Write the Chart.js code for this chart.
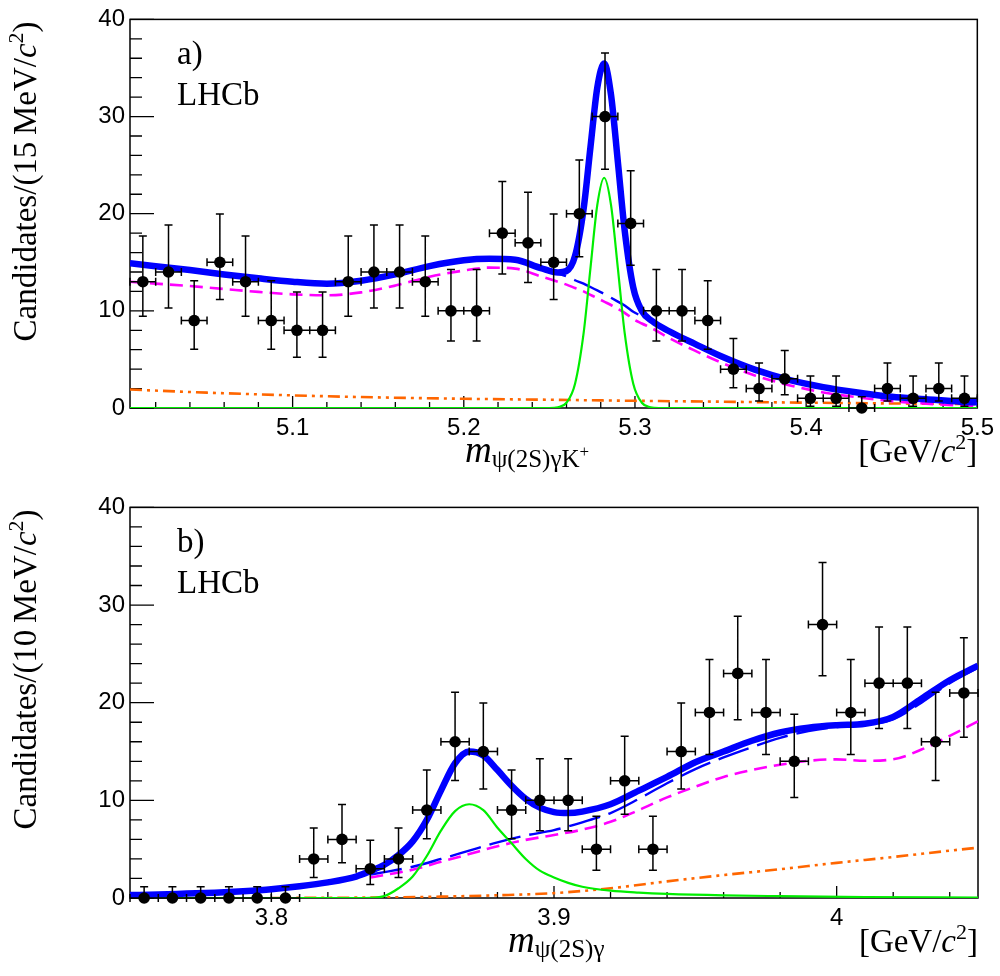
<!DOCTYPE html>
<html>
<head>
<meta charset="utf-8">
<script src="https://cdn.jsdelivr.net/npm/chart.js@4.4.1/dist/chart.umd.min.js"></script>
<style>
html, body { margin: 0; padding: 0; background: #fff; }
.panel { width: 1000px; height: 488px; }
canvas { display: block; }
</style>
</head>
<body>
<div class="panel"><canvas id="plotA" width="1000" height="488"></canvas></div>
<div class="panel"><canvas id="plotB" width="1000" height="488"></canvas></div>
<script>
// ---- panel a) : m(psi(2S) gamma K+) ----
const binsA = [5.0125, 5.0275, 5.0425, 5.0575, 5.0725, 5.0875, 5.1025, 5.1175, 5.1325, 5.1475, 5.1625,
  5.1775, 5.1925, 5.2075, 5.2225, 5.2375, 5.2525, 5.2675, 5.2825, 5.2975, 5.3125, 5.3275, 5.3425,
  5.3575, 5.3725, 5.3875, 5.4025, 5.4175, 5.4325, 5.4475, 5.4625, 5.4775, 5.4925];
const countsA = [13, 14, 9, 15, 13, 9, 8, 8, 13, 14, 14, 13, 10, 10, 18, 17, 15, 20, 30, 19, 10, 10, 9,
  4, 2, 3, 1, 1, 0, 2, 1, 2, 1];
const errLowA = [3.56, 3.70, 2.94, 3.83, 3.56, 2.94, 2.77, 2.77, 3.56, 3.70, 3.70, 3.56, 3.11, 3.11, 4.20,
  4.08, 3.83, 4.43, 5.42, 4.31, 3.11, 3.11, 2.94, 1.91, 1.29, 1.63, 0.83, 0.83, 0, 1.29, 0.83, 1.29, 0.83];
const errHighA = [4.70, 4.83, 4.11, 4.96, 4.70, 4.11, 3.95, 3.95, 4.70, 4.83, 4.83, 4.70, 4.26, 4.26, 5.32,
  5.20, 4.96, 5.54, 6.53, 5.43, 4.26, 4.26, 4.11, 3.16, 2.64, 2.92, 2.30, 2.30, 1.15, 2.64, 2.30, 2.64, 2.30];
const halfBinA = 0.0075;

const curveXA = [5.005, 5.02, 5.04, 5.06, 5.08, 5.10, 5.12, 5.14, 5.16, 5.18, 5.20, 5.215, 5.23, 5.245,
  5.255, 5.26, 5.265, 5.27, 5.274, 5.278, 5.282, 5.286, 5.29, 5.294, 5.299, 5.304, 5.31, 5.32, 5.335,
  5.35, 5.37, 5.39, 5.41, 5.43, 5.45, 5.47, 5.49, 5.5];
const totalA = [14.9, 14.6, 14.2, 13.75, 13.35, 13.0, 12.8, 13.1, 13.75, 14.6, 15.2, 15.35, 15.25, 14.4,
  13.95, 14.1, 15.65, 20.5, 26.85, 33.0, 35.45, 32.25, 25.35, 18.25, 12.4, 10.0, 8.95, 7.9, 6.6,
  5.35, 3.95, 2.9, 2.15, 1.6, 1.15, 0.9, 0.65, 0.58];
const bkgSumA = [14.9, 14.6, 14.2, 13.75, 13.35, 13.0, 12.8, 13.1, 13.75, 14.6, 15.2, 15.35, 15.25, 14.4,
  13.85, 13.55, 13.15, 12.8, 12.45, 12.1, 11.75, 11.35, 10.95, 10.55, 9.9, 9.45, 8.95, 7.9, 6.6,
  5.35, 3.95, 2.9, 2.15, 1.6, 1.15, 0.9, 0.65, 0.58];
const partRecoA = [13.0, 12.8, 12.55, 12.25, 11.95, 11.7, 11.6, 11.9, 12.6, 13.5, 14.15, 14.45, 14.35, 13.55,
  13.0, 12.7, 12.35, 12.0, 11.65, 11.3, 10.95, 10.6, 10.2, 9.8, 9.15, 8.7, 8.2, 7.2, 5.9,
  4.7, 3.35, 2.35, 1.6, 1.1, 0.7, 0.45, 0.25, 0.18];
const signalXA = [5.005, 5.25, 5.255, 5.26, 5.265, 5.27, 5.274, 5.278, 5.282, 5.286, 5.29, 5.294, 5.299,
  5.304, 5.309, 5.314, 5.5];
const signalA = [0, 0, 0.08, 0.54, 2.5, 7.7, 14.4, 20.9, 23.7, 20.9, 14.4, 7.7, 2.5, 0.54, 0.08, 0, 0];
const combXA = [5.005, 5.05, 5.10, 5.15, 5.20, 5.25, 5.30, 5.35, 5.40, 5.45, 5.5];
const combA = [1.9, 1.58, 1.3, 1.09, 0.95, 0.85, 0.74, 0.65, 0.55, 0.47, 0.4];
const xTicksA = [5.1, 5.2, 5.3, 5.4, 5.5];

// ---- panel b) : m(psi(2S) gamma) ----
const binsB = [3.755, 3.765, 3.775, 3.785, 3.795, 3.805, 3.815, 3.825, 3.835, 3.845, 3.855, 3.865, 3.875,
  3.885, 3.895, 3.905, 3.915, 3.925, 3.935, 3.945, 3.955, 3.965, 3.975, 3.985, 3.995, 4.005, 4.015,
  4.025, 4.035, 4.045];
const countsB = [0, 0, 0, 0, 0, 0, 4, 6, 3, 4, 9, 16, 15, 9, 10, 10, 5, 12, 5, 15, 19, 23, 19, 14, 28, 19,
  22, 22, 16, 21];
const errLowB = [0, 0, 0, 0, 0, 0, 1.91, 2.38, 1.63, 1.91, 2.94, 3.96, 3.83, 2.94, 3.11, 3.11, 2.16, 3.42,
  2.16, 3.83, 4.31, 4.75, 4.31, 3.70, 5.24, 4.31, 4.65, 4.65, 3.96, 4.54];
const errHighB = [1.15, 1.15, 1.15, 1.15, 1.15, 1.15, 3.16, 3.58, 2.92, 3.16, 4.11, 5.08, 4.96, 4.11, 4.26,
  4.26, 3.38, 4.56, 3.38, 4.96, 5.43, 5.86, 5.43, 4.83, 6.35, 5.43, 5.76, 5.76, 5.08, 5.65];
const halfBinB = 0.005;

const totalXB = [3.75, 3.76, 3.77, 3.78, 3.79, 3.80, 3.81, 3.82, 3.83, 3.835, 3.84, 3.845, 3.85, 3.855,
  3.86, 3.865, 3.87, 3.875, 3.88, 3.885, 3.89, 3.895, 3.90, 3.905, 3.91, 3.92, 3.93, 3.94, 3.95,
  3.96, 3.97, 3.98, 3.99, 4.00, 4.01, 4.02, 4.03, 4.04, 4.05];
const totalB = [0.3, 0.35, 0.45, 0.55, 0.7, 0.9, 1.2, 1.6, 2.2, 2.75, 3.4, 4.4, 5.8, 8.0, 11.0, 13.8,
  15.0, 14.6, 13.1, 11.5, 10.15, 9.25, 8.8, 8.7, 8.85, 9.6, 11.0, 12.4, 13.9, 15.0, 16.1, 16.95, 17.45,
  17.7, 17.85, 18.55, 20.4, 22.3, 23.8];
const bkgXB = [3.835, 3.84, 3.85, 3.86, 3.87, 3.88, 3.89, 3.90, 3.91, 3.92, 3.93, 3.94, 3.95, 3.96, 3.97,
  3.98, 3.99, 4.00, 4.01, 4.02, 4.03, 4.04, 4.05];
const bkgSumB = [2.4, 2.65, 3.2, 4.0, 4.85, 5.7, 6.4, 6.95, 7.75, 8.7, 10.15, 11.75, 13.2, 14.4, 15.45,
  16.4, 17.1, 17.5, 17.7, 18.3, 20.0, 22.0, 23.6];
const partRecoB = [2.1, 2.35, 2.9, 3.7, 4.5, 5.3, 5.95, 6.45, 7.0, 7.8, 9.0, 10.3, 11.4, 12.4, 13.1,
  13.65, 14.05, 14.2, 14.05, 14.2, 15.2, 16.6, 18.1];
const signalXB = [3.75, 3.83, 3.835, 3.84, 3.845, 3.85, 3.855, 3.86, 3.865, 3.87, 3.875, 3.88, 3.885,
  3.89, 3.895, 3.90, 3.905, 3.91, 3.92, 3.93, 3.94, 3.96, 3.98, 4.01, 4.05];
const signalB = [0, 0, 0.02, 0.2, 1.0, 2.2, 4.3, 6.9, 8.9, 9.6, 9.0, 7.2, 5.6, 4.0, 2.8, 2.1, 1.55, 1.15,
  0.75, 0.55, 0.42, 0.27, 0.19, 0.1, 0.05];
const combXB = [3.80, 3.82, 3.84, 3.86, 3.88, 3.90, 3.92, 3.94, 3.96, 3.98, 4.00, 4.02, 4.04, 4.05];
const combB = [0, 0.02, 0.06, 0.14, 0.28, 0.5, 1.0, 1.7, 2.35, 2.95, 3.6, 4.2, 4.85, 5.15];
const xTicksB = [3.8, 3.9, 4];

const yTicks = [0, 10, 20, 30, 40];

function pts(xs, ys) {
  return xs.map((x, i) => ({ x: x, y: ys[i] }));
}

function drawRuns(ctx, runs, x, y, align) {
  let w = 0;
  runs.forEach(r => { ctx.font = r.f; w += ctx.measureText(r.t).width; });
  let cx = align === 'center' ? x - w / 2 : (align === 'right' ? x - w : x);
  runs.forEach(r => {
    ctx.font = r.f;
    ctx.fillText(r.t, cx, y + (r.dy || 0));
    cx += ctx.measureText(r.t).width;
  });
}

// frame + inside ticks, ROOT style
const frameTicks = {
  id: 'frameTicks',
  beforeDatasetsDraw(chart) {
    const { ctx, chartArea: a } = chart;
    const xs = chart.scales.x, ys = chart.scales.y;
    ctx.save();
    ctx.strokeStyle = '#000';
    ctx.lineWidth = 1.5;
    ctx.strokeRect(a.left, a.top, a.right - a.left, a.bottom - a.top);
    ctx.lineWidth = 1.3;
    ctx.beginPath();
    for (let k = 0; k * 2 <= ys.max + 1e-9; k++) {
      const py = ys.getPixelForValue(k * 2);
      ctx.moveTo(a.left, py);
      ctx.lineTo(a.left + (k % 5 === 0 ? 24 : 12), py);
    }
    const step = 0.02;
    for (let k = Math.ceil(xs.min / step - 1e-6); k * step <= xs.max + 1e-9; k++) {
      const px = xs.getPixelForValue(k * step);
      ctx.moveTo(px, a.bottom);
      ctx.lineTo(px, a.bottom - (k % 5 === 0 ? 12 : 6));
    }
    ctx.stroke();
    ctx.restore();
  }
};

// asymmetric Poisson error bars, drawn just before the markers
const errorBars = {
  id: 'errorBars',
  beforeDatasetDraw(chart, args) {
    const ds = chart.data.datasets[args.index];
    if (!ds.errLow) return;
    const { ctx } = chart;
    const xs = chart.scales.x, ys = chart.scales.y;
    ctx.save();
    ctx.strokeStyle = '#000';
    ctx.lineWidth = 1.5;
    ctx.beginPath();
    ds.data.forEach((p, i) => {
      const px = xs.getPixelForValue(p.x), py = ys.getPixelForValue(p.y);
      const xl = xs.getPixelForValue(p.x - ds.halfBin), xr = xs.getPixelForValue(p.x + ds.halfBin);
      const yt = ys.getPixelForValue(p.y + ds.errHigh[i]), yb = ys.getPixelForValue(p.y - ds.errLow[i]);
      ctx.moveTo(xl, py); ctx.lineTo(xr, py);
      ctx.moveTo(xl, py - 4); ctx.lineTo(xl, py + 4);
      ctx.moveTo(xr, py - 4); ctx.lineTo(xr, py + 4);
      ctx.moveTo(px, yt); ctx.lineTo(px, yb);
      ctx.moveTo(px - 4, yt); ctx.lineTo(px + 4, yt);
      if (ds.errLow[i] > 0) { ctx.moveTo(px - 4, yb); ctx.lineTo(px + 4, yb); }
    });
    ctx.stroke();
    ctx.restore();
  }
};

const panelText = {
  id: 'panelText',
  afterDraw(chart, args, o) {
    const { ctx, chartArea: a } = chart;
    const S = '33px "Liberation Serif"';
    const I = 'italic 33px "Liberation Serif"';
    const SUP = '22px "Liberation Serif"';
    const SUB = '25px "Liberation Serif"';
    ctx.save();
    ctx.fillStyle = '#000';
    ctx.textAlign = 'left';
    ctx.textBaseline = 'alphabetic';
    ctx.font = S;
    ctx.fillText(o.label, 177, a.top + 45);
    ctx.fillText('LHCb', 177, a.top + 86);

    const runsX = [{ t: 'm', f: 'italic 37px "Liberation Serif"' }, { t: o.xSub, f: SUB, dy: 5 }];
    if (o.xSup) runsX.push({ t: o.xSup, f: '17px "Liberation Serif"', dy: -5 });
    drawRuns(ctx, runsX, o.xTitleLeft, a.bottom + 54, 'left');
    drawRuns(ctx, [{ t: '[GeV/', f: S }, { t: 'c', f: I }, { t: '2', f: SUP, dy: -13 }, { t: ']', f: S }],
      a.right, a.bottom + 54, 'right');

    ctx.translate(36, a.top + 2);
    ctx.rotate(-Math.PI / 2);
    drawRuns(ctx, [{ t: 'Candidates/(' + o.yBin + '\u2009MeV/', f: S }, { t: 'c', f: I },
      { t: '2', f: SUP, dy: -13 }, { t: ')', f: S }], 0, 0, 'right');
    ctx.restore();
  }
};

function lineSet(data, color, width, dash, order) {
  return {
    type: 'line', data: data, borderColor: color, borderWidth: width, borderDash: dash,
    pointRadius: 0, fill: false, cubicInterpolationMode: 'monotone', order: order,
    borderCapStyle: 'butt', borderJoinStyle: 'round'
  };
}

function makePanel(id, p) {
  return new Chart(document.getElementById(id), {
    type: 'scatter',
    data: {
      datasets: [
        {
          data: pts(p.bins, p.counts), errLow: p.errLow, errHigh: p.errHigh, halfBin: p.halfBin,
          pointRadius: 5.8, pointBackgroundColor: '#000', pointBorderWidth: 0, clip: false, order: 0
        },
        lineSet(pts(p.comb[0], p.comb[1]), '#ff6600', 2.6, [12, 5, 3, 5, 3, 5], 5),
        lineSet(pts(p.part[0], p.part[1]), '#ff00ff', 2.6, [13, 7], 4),
        lineSet(pts(p.bkg[0], p.bkg[1]), '#0000ff', 2.4, [32, 9], 3),
        lineSet(pts(p.sig[0], p.sig[1]), '#00ee00', 2.2, [], 2),
        lineSet(pts(p.tot[0], p.tot[1]), '#0000ff', 6.5, [], 1)
      ]
    },
    options: {
      responsive: false,
      animation: false,
      devicePixelRatio: 1,
      layout: { padding: { left: 0, right: 22, top: p.top, bottom: 0 } },
      plugins: {
        legend: { display: false },
        tooltip: { enabled: false },
        panelText: p.text
      },
      scales: {
        x: {
          type: 'linear', min: p.xMin, max: p.xMax,
          grid: { display: false, drawTicks: false },
          border: { display: false },
          afterBuildTicks: s => { s.ticks = p.xTicks.map(v => ({ value: v })); },
          afterFit: s => { s.height = p.xHeight; },
          ticks: {
            color: '#000', padding: 6, maxRotation: 0, autoSkip: false,
            font: { family: '"Liberation Sans"', size: 24 },
            callback: v => String(v)
          }
        },
        y: {
          min: 0, max: 40,
          grid: { display: false, drawTicks: false },
          border: { display: false },
          afterBuildTicks: s => { s.ticks = yTicks.map(v => ({ value: v })); },
          afterFit: s => { s.width = 130; },
          ticks: {
            color: '#000', padding: 5,
            font: { family: '"Liberation Sans"', size: 24 },
            callback: v => String(v)
          }
        }
      }
    },
    plugins: [frameTicks, errorBars, panelText]
  });
}

makePanel('plotA', {
  bins: binsA, counts: countsA, errLow: errLowA, errHigh: errHighA, halfBin: halfBinA,
  comb: [combXA, combA], part: [curveXA, partRecoA], bkg: [curveXA, bkgSumA],
  sig: [signalXA, signalA], tot: [curveXA, totalA],
  xMin: 5.005, xMax: 5.5, xTicks: xTicksA, top: 12, xHeight: 80,
  text: { label: 'a)', xSub: '\u03c8(2S)\u03b3K', xSup: '+', yBin: '15', xTitleLeft: 465 }
});

makePanel('plotB', {
  bins: binsB, counts: countsB, errLow: errLowB, errHigh: errHighB, halfBin: halfBinB,
  comb: [combXB, combB], part: [bkgXB, partRecoB], bkg: [bkgXB, bkgSumB],
  sig: [signalXB, signalB], tot: [totalXB, totalB],
  xMin: 3.75, xMax: 4.05, xTicks: xTicksB, top: 17, xHeight: 78,
  text: { label: 'b)', xSub: '\u03c8(2S)\u03b3', xSup: '', yBin: '10', xTitleLeft: 508 }
});
</script>
</body>
</html>
